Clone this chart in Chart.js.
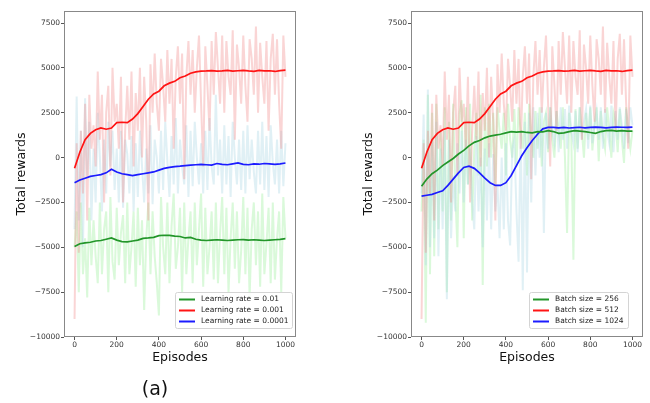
<!DOCTYPE html>
<html>
<head>
<meta charset="utf-8">
<script src="https://cdn.jsdelivr.net/npm/chart.js@4"></script>
<style>
  html, body { margin: 0; padding: 0; background: #fff; }
  #wrap { position: relative; width: 650px; height: 403px; }
  canvas { position: absolute; top: 0; }
  #c1 { left: 0; }
  #c2 { left: 325px; }
  #caption { position: absolute; left: 130px; width: 50px; top: 377px; line-height: 22px;
             text-align: center; font-family: "DejaVu Sans", sans-serif; font-size: 19px; color: #111; }
</style>
</head>
<body>
<div id="wrap">
  <canvas id="c1" width="325" height="403"></canvas>
  <canvas id="c2" width="325" height="403"></canvas>
  <div id="caption">(a)</div>
</div>
<script>
Chart.defaults.font.family = '"DejaVu Sans", sans-serif';
Chart.defaults.color = '#333';

// x positions of the smoothed curves and of the raw episode rewards
const episodes = [0, 25, 50, 75, 100, 125, 150, 175, 200, 225, 250, 275, 300, 325, 350, 375, 400,
  425, 450, 475, 500, 525, 550, 575, 600, 625, 650, 675, 700, 725, 750, 775, 800, 825, 850, 875,
  900, 925, 950, 975, 1000];
const rawEpisodes = [0, 10, 20, 30, 40, 50, 60, 70, 80, 90, 100, 110, 120, 130, 140, 150, 160, 170,
  180, 190, 200, 210, 220, 230, 240, 250, 260, 270, 280, 290, 300, 310, 320, 330, 340, 350, 360,
  370, 380, 390, 400, 410, 420, 430, 440, 450, 460, 470, 480, 490, 500, 510, 520, 530, 540, 550,
  560, 570, 580, 590, 600, 610, 620, 630, 640, 650, 660, 670, 680, 690, 700, 710, 720, 730, 740,
  750, 760, 770, 780, 790, 800, 810, 820, 830, 840, 850, 860, 870, 880, 890, 900, 910, 920, 930,
  940, 950, 960, 970, 980, 990, 1000];

const yTicks = [-10000, -7500, -5000, -2500, 0, 2500, 5000, 7500];
const xTicks = [0, 200, 400, 600, 800, 1000];

const lrLabels = ['Learning rate = 0.01', 'Learning rate = 0.001', 'Learning rate = 0.0001'];
const bsLabels = ['Batch size = 256', 'Batch size = 512', 'Batch size = 1024'];

// smoothed curves
const smoothLr01 = [-4950, -4800, -4750, -4720, -4650, -4620, -4550, -4480, -4600, -4680, -4700,
  -4650, -4600, -4500, -4480, -4450, -4350, -4330, -4340, -4380, -4400, -4480, -4450, -4550, -4600,
  -4620, -4600, -4580, -4600, -4620, -4600, -4580, -4570, -4600, -4580, -4600, -4620, -4600, -4580,
  -4560, -4520];
// lr 0.001 and batch 512 are the same run
const smoothLr001 = [-600, 300, 1000, 1350, 1550, 1650, 1580, 1650, 1950, 1970, 1950, 2150, 2450,
  2850, 3250, 3550, 3700, 4000, 4150, 4250, 4450, 4550, 4700, 4780, 4820, 4830, 4850, 4820, 4830,
  4860, 4820, 4840, 4860, 4830, 4810, 4860, 4830, 4840, 4800, 4850, 4870];
const smoothLr0001 = [-1400, -1250, -1150, -1050, -1000, -950, -850, -650, -800, -900, -950, -1000,
  -950, -900, -850, -800, -700, -600, -550, -500, -480, -450, -420, -400, -380, -400, -420, -330,
  -380, -400, -350, -300, -380, -400, -350, -370, -330, -350, -380, -350, -300];
const smoothBs256 = [-1600, -1200, -900, -700, -450, -250, -50, 200, 400, 650, 850, 950, 1100, 1200,
  1250, 1300, 1380, 1450, 1420, 1450, 1400, 1380, 1450, 1430, 1500, 1450, 1350, 1380, 1450, 1500,
  1480, 1450, 1400, 1350, 1450, 1500, 1520, 1480, 1500, 1480, 1480];
const smoothBs1024 = [-2150, -2100, -2050, -1950, -1850, -1550, -1200, -850, -550, -480, -600, -850,
  -1150, -1400, -1550, -1550, -1400, -1000, -450, 100, 550, 950, 1300, 1600, 1680, 1680, 1660, 1680,
  1650, 1670, 1690, 1660, 1680, 1700, 1680, 1660, 1680, 1700, 1690, 1680, 1700];

// raw episode rewards, one value every 10 episodes
const rawLr01 = [-5000, -3000, -7500, -2500, -6500, -4500, -7800, -2800, -6000, -3500,
  -5500, -7000, -2500, -6500, -4000, -3000, -7500, -2200, -5800, -6800,
  -2800, -6000, -4200, -3200, -7000, -2500, -6500, -5000, -3000, -7200,
  -2800, -6000, -3500, -8500, -4500, -2500, -6500, -3000, -5500, -7000,
  -8800, -2200, -5000, -6500, -2500, -7000, -3800, -2000, -6200, -5000,
  -2800, -7500, -2500, -6500, -4500, -3000, -7000, -2500, -6000, -4000,
  -2000, -7200, -2800, -6500, -5000, -3000, -6800, -2500, -7000, -4200,
  -2200, -6500, -2800, -7500, -4500, -2500, -6200, -3000, -7000, -5200,
  -2200, -6500, -2800, -7800, -4000, -2500, -6000, -3000, -7200, -2000,
  -6500, -4800, -2800, -7000, -2500, -6800, -4500, -3000, -7500, -2200,
  -4500];
const rawLr001 = [-9000, 800, -5300, 1500, -2000, 3000, -3500, 3500, 500, 1800,
  -500, 4800, 1000, 3500, -2500, 2500, 4000, -1000, 5000, 2000,
  3000, 500, 4500, -2500, 1500, 4000, 1000, 4800, -500, 3600,
  1500, 5000, 0, 4500, 2000, -3500, 5200, 2500, 5800, 3000,
  1500, 5500, 4000, 2000, 6000, 3000, 5500, 500, 4500, 6200,
  3000, 5800, -1200, 4500, 6500, 3500, 6000, 2500, 5000, 6800,
  3000, -500, 6200, 4000, 1500, 6500, 3500, 7000, 5000, 3000,
  6800, 2500, 6500, 4500, 3500, 7100, 1000, 6300, 5000, 3000,
  6800, 4000, 2000, 6600, 5500, 3500, 7300, 2500, 6400, 4500,
  3000, 6500, 1500, 5500, 6900, 3500, 6600, 3000, 500, 6800,
  4500];
const rawLr0001 = [-4000, 3400, -3500, 1500, -5000, 3300, -1000, 2000, -3500, 500,
  -2500, 2500, 0, -3000, 1000, -2000, 2000, -500, 1500, -1800,
  500, -2500, 1500, -2800, 1000, 200, -2000, 1200, -3000, 800,
  -2200, 1500, -500, -2500, 500, -2000, 1800, -2600, 1000, 0,
  -2000, 1500, -1800, 2000, -200, -2200, 1200, -1500, 2200, -2000,
  1000, -500, -1500, 1800, -2200, 1500, -1600, 2000, 0, -1500,
  800, -2000, 1500, -1800, 2200, -500, -1500, 3500, -1000, 1000,
  -2000, 1800, -1500, 1200, -2200, 2000, 0, -1500, 1000, -1800,
  1500, -2000, 1800, -1200, 1000, -800, -2000, 1500, -1500, 2000,
  -1800, 1200, -2200, 1800, -300, -1500, 1000, -2000, 1500, -1600,
  800];
const rawBs256 = [-3000, 1000, -9200, 3500, -6500, 2500, -5500, 3000, -4000, 1500,
  -3000, 2800, -7500, 2000, -3500, 3000, -2000, -5000, 2500, 3200,
  -4500, 2800, -1500, 3000, -3500, 500, 2500, -1000, 3500, -7100,
  2800, -500, 3000, 0, 2500, -1500, 2800, 1500, 500, 2500,
  -1000, 3000, 1000, 0, 2700, -500, 2800, 1500, 500, 2500,
  -1000, 3000, 1200, 0, 2600, 500, 2800, -500, 2000, 2500,
  300, 2800, 1000, 0, 2600, 1500, 500, 2800, 0, -4200,
  2500, 1200, -5700, 2700, 500, 2800, 1500, 0, 2500, 1000,
  2800, 400, 1800, 2800, -200, 2600, 1200, 500, 2800, 1500,
  0, 2500, 2000, 300, 2700, 1000, -300, 2800, 1500, 500,
  1500];
const rawBs1024 = [-2000, 2400, -6000, 3800, -5000, 1000, -4500, 2000, -5500, 500,
  -4000, 1500, -7900, 1000, -4500, -1000, -3000, 800, -2000, 1500,
  -2500, 1000, -1500, 500, -2500, -4000, 1200, -3000, 0, -5000,
  500, -3500, 800, -4000, 200, -3000, -1500, -4500, 0, -4000,
  800, -3500, -4900, 500, 1000, -3000, -5800, 1500, -7400, 2000,
  -6400, 2500, -2500, 2800, -1000, 2500, 0, 2800, -4200, 2500,
  500, 2800, 1500, 800, 2600, 300, 2800, 1000, 2700, 500,
  2900, 1500, 800, 2600, 300, 2800, 1000, 2000, 2700, 500,
  2900, 800, 1800, 2600, 1000, 2800, 500, 2700, 1500, 800,
  2900, 300, 2600, 1000, 2800, 1800, 500, 2700, 800, 2800,
  1800];

const GREEN = '#23962a', RED = '#ff1414', BLUE = '#1c1cff';
const RAW_GREEN = 'rgba(144,238,144,0.33)';
const RAW_RED = 'rgba(240,128,128,0.33)';
const RAW_BLUE = 'rgba(173,216,230,0.38)';

function pts(xs, ys) {
  return ys.map((y, i) => ({ x: xs[i], y: y }));
}

function smoothSet(label, ys, color) {
  return { label: label, data: pts(episodes, ys), borderColor: color, borderWidth: 1.7,
           pointRadius: 0, tension: 0, order: 0 };
}

function rawSet(ys, color, order) {
  return { label: '', data: pts(rawEpisodes, ys), borderColor: color, borderWidth: 2,
           pointRadius: 0, tension: 0, order: order };
}

// frame round the plot area plus a matplotlib style legend in the lower right
const boxLegend = {
  id: 'boxLegend',
  afterDraw(chart, args, opts) {
    const ctx = chart.ctx, a = chart.chartArea;
    ctx.save();
    ctx.strokeStyle = '#888';
    ctx.lineWidth = 1;
    ctx.strokeRect(Math.round(a.left) + 0.5, Math.round(a.top) + 0.5,
                   Math.round(a.right - a.left) - 1, Math.round(a.bottom - a.top) - 1);

    const items = chart.data.datasets.filter(d => d.label);
    ctx.font = '7.5px "DejaVu Sans", sans-serif';
    const tw = Math.max(...items.map(d => ctx.measureText(d.label).width));
    const rowH = 11;
    const w = Math.round(26 + tw + 4), h = items.length * rowH + 3;
    const x = Math.round(a.right - opts.right - w), y = Math.round(a.bottom - opts.bottom - h);
    ctx.fillStyle = 'rgba(255,255,255,0.85)';
    ctx.strokeStyle = '#d4d4d4';
    ctx.beginPath();
    ctx.roundRect(x + 0.5, y + 0.5, w, h, 2);
    ctx.fill();
    ctx.stroke();
    items.forEach((d, i) => {
      const cy = y + 2 + rowH * i + rowH / 2;
      ctx.strokeStyle = d.borderColor;
      ctx.lineWidth = 2;
      ctx.beginPath();
      ctx.moveTo(x + 4, cy);
      ctx.lineTo(x + 20, cy);
      ctx.stroke();
      ctx.fillStyle = '#222';
      ctx.textAlign = 'left';
      ctx.textBaseline = 'middle';
      ctx.fillText(d.label, x + 26, cy);
    });
    ctx.restore();
  }
};

function makeOptions(padLeft, padRight, legendRight) {
  return {
    responsive: false,
    animation: false,
    layout: { padding: { left: padLeft, right: padRight, top: 11, bottom: 38 } },
    plugins: {
      legend: { display: false },
      tooltip: { enabled: false },
      boxLegend: { right: legendRight, bottom: 9 }
    },
    scales: {
      x: {
        type: 'linear', min: -50, max: 1050,
        afterBuildTicks: s => { s.ticks = xTicks.map(v => ({ value: v })); },
        afterFit: s => { s.height = 28; },
        grid: { display: true, drawOnChartArea: false, drawTicks: true, tickLength: 3, color: '#555' },
        border: { display: false },
        ticks: { font: { size: 7.5 }, color: '#333', padding: 1, maxRotation: 0, autoSkip: false,
                 callback: v => String(v) },
        title: { display: true, text: 'Episodes', font: { size: 12.5 }, color: '#111', padding: 0 }
      },
      y: {
        type: 'linear', min: -10000, max: 8170,
        afterBuildTicks: s => { s.ticks = yTicks.map(v => ({ value: v })); },
        afterFit: s => { s.width = 64; },
        grid: { display: true, drawOnChartArea: false, drawTicks: true, tickLength: 3, color: '#555' },
        border: { display: false },
        ticks: {
          font: { size: 7.5 }, color: '#333', padding: 1, autoSkip: false,
          callback: v => v < 0 ? '\u2212' + Math.abs(v) : String(v)
        },
        title: { display: true, text: 'Total rewards', font: { size: 12.5 }, color: '#111',
                 padding: { top: 14.5, bottom: 0 } }
      }
    }
  };
}

new Chart(document.getElementById('c1'), {
  type: 'line',
  data: {
    datasets: [
      smoothSet(lrLabels[0], smoothLr01, GREEN),
      smoothSet(lrLabels[1], smoothLr001, RED),
      smoothSet(lrLabels[2], smoothLr0001, BLUE),
      rawSet(rawLr001, RAW_RED, 1),
      rawSet(rawLr0001, RAW_BLUE, 2),
      rawSet(rawLr01, RAW_GREEN, 3)
    ]
  },
  options: makeOptions(0, 29, 4),
  plugins: [boxLegend]
});

new Chart(document.getElementById('c2'), {
  type: 'line',
  data: {
    datasets: [
      smoothSet(bsLabels[0], smoothBs256, GREEN),
      smoothSet(bsLabels[1], smoothLr001, RED),
      smoothSet(bsLabels[2], smoothBs1024, BLUE),
      rawSet(rawLr001, RAW_RED, 1),
      rawSet(rawBs1024, RAW_BLUE, 2),
      rawSet(rawBs256, RAW_GREEN, 3)
    ]
  },
  options: makeOptions(22, 7, 15),
  plugins: [boxLegend]
});
</script>
</body>
</html>
